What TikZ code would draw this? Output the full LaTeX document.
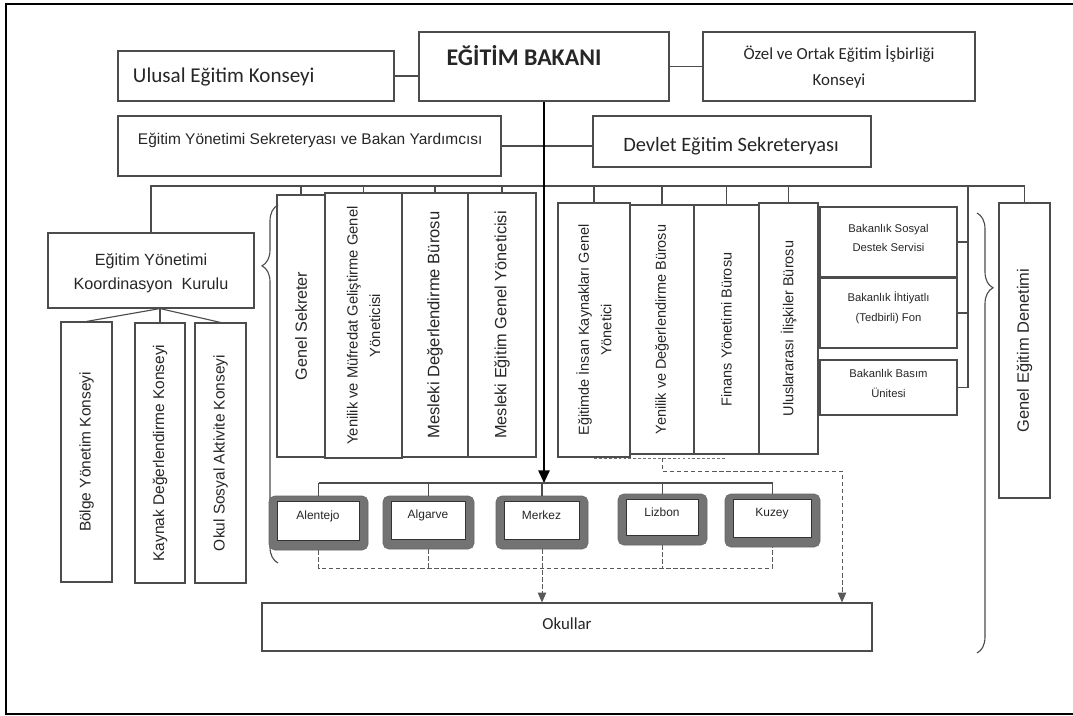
\documentclass[tikz,border=0pt]{standalone}
\usepackage{fontspec}
\setmainfont{Carlito}
\newfontfamily\arialf{Liberation Sans}
\usetikzlibrary{fit,arrows.meta,decorations.pathreplacing}
\tikzset{
  box/.style={draw=black!70, line width=0.8pt, inner sep=0pt, text=black!85},
  vtext/.style={rotate=90, align=center, text=black!85,
    font=\arialf\fontsize{#1}{16}\selectfont},
  vtext/.default=11,
  conn/.style={draw=black!70, line width=0.8pt},
  mainline/.style={draw=black, line width=1.4pt, -{Triangle[length=9pt,width=8pt]}},
  dashline/.style={draw=black!65, line width=0.7pt, dash pattern=on 3pt off 2pt},
  dasharrow/.style={dashline, -{Triangle[length=7pt,width=6pt]}},
  dotline/.style={draw=black!55, line width=0.7pt, dash pattern=on 2pt off 1.5pt},
  regout/.style={fill=black!55, draw=black!60, rounded corners=4pt, inner sep=0pt},
  regin/.style={fill=white, draw=black!80, line width=0.6pt, inner sep=0pt,
    text=black!85, font=\arialf\fontsize{8.5}{10}\selectfont},
  smallbox/.style={box, align=center, font=\arialf\fontsize{8}{14}\selectfont},
  curly/.style={draw=black!70, line width=0.8pt, decorate,
    decoration={brace, amplitude=0.4cm}}
}
\begin{document}
\begin{tikzpicture}[x=0.025cm, y=-0.025cm]
    \useasboundingbox (0,0) rectangle (1073,716);
    \draw[line width=1pt] (1073,4) -- (6,4) -- (6,714) -- (1073,714);

    % top row
    \node[box, fit={(419,32) (669,101)}] (bakan) {};
    \node[text=black!85, font=\bfseries\fontsize{17}{20}\selectfont] (bakant) at (524,56) {EĞİTİM BAKANI};
    \node[box, fit={(118,51) (394,101)}] (ulusal) {};
    \node[anchor=west, text=black!85, font=\fontsize{15}{18}\selectfont] (ulusalt) at (128,77) {Ulusal Eğitim Konseyi};
    \node[box, fit={(703,32) (975,101)}] (ozel) {};
    \node[align=center, text=black!85, font=\fontsize{12}{19}\selectfont] (ozelt) at (839,67) {Özel ve Ortak Eğitim İşbirliği\\Konseyi};
    \node[box, fit={(118,116) (501,176)}] (eys) {};
    \node[anchor=west, text=black!85, font=\arialf\fontsize{11}{14}\selectfont] (eyst) at (133,140) {Eğitim Yönetimi Sekreteryası ve Bakan Yardımcısı};
    \node[box, fit={(593,116) (871,167)}] (devlet) {};
    \node[text=black!85, font=\fontsize{14.5}{17}\selectfont] (devlett) at (731,146) {Devlet Eğitim Sekreteryası};

    \draw[conn] (ulusal.east) -- (ulusal.east -| bakan.west);
    \draw[conn] (bakan.east |- ozel) -- (ozel.west);
    \draw[conn] (eys.east) -- (eys.east -| devlet.west);

    % left group
    \node[box, fit={(48,233) (254,308)}] (koord) {};
    \node[align=center, text=black!85, font=\arialf\fontsize{11.5}{17}\selectfont] (koordt) at (151,273) {Eğitim Yönetimi\\Koordinasyon\ \ Kurulu};
    \node[box, fit={(61,322) (112,582)}] (bolge) {};
    \node[box, fit={(135,323) (185,583)}] (kaynak) {};
    \node[box, fit={(195,323) (246,583)}] (okulsos) {};
    \node[vtext] (bolget) at (bolge) {Bölge Yönetim Konseyi};
    \node[vtext] (kaynakt) at (kaynak) {Kaynak Değerlendirme Konseyi};
    \node[vtext] (okulsost) at (okulsos) {Okul Sosyal Aktivite Konseyi};
    \coordinate (kfan) at (kaynak.north |- koord.south);
    \draw[conn] (kfan) -- (bolge.north);
    \draw[conn] (kfan) -- (kaynak.north);
    \draw[conn] (kfan) -- (okulsos.north);

    % middle groups
    \node[box, fit={(277,195) (325,457)}] (gensek) {};
    \node[box, fit={(325,193) (402,458)}] (yenmuf) {};
    \node[box, fit={(402,193) (468,457)}] (mesdeg) {};
    \node[box, fit={(468,193) (536,457)}] (mesegt) {};
    \node[vtext=11.5] (gensekt) at (gensek) {Genel Sekreter};
    \node[vtext=10.5] (yenmuft) at (yenmuf) {Yenilik ve Müfredat Geliştirme Genel\\Yöneticisi};
    \node[vtext=11.8] (mesdegt) at (mesdeg) {Mesleki Değerlendirme Bürosu};
    \node[vtext=11.6] (mesegtt) at (mesegt) {Mesleki Eğitim Genel Yöneticisi};

    \node[box, fit={(558,203) (630,457)}] (insan) {};
    \node[box, fit={(630,205) (694,454)}] (yendeg) {};
    \node[box, fit={(694,205) (759,454)}] (finans) {};
    \node[box, fit={(759,203) (818,454)}] (ulusl) {};
    \node[vtext=10.3] (insant) at (insan) {Eğitimde İnsan Kaynakları Genel\\Yönetici};
    \node[vtext=10.3] (yendegt) at (yendeg) {Yenilik ve Değerlendirme Bürosu};
    \node[vtext=10.3] (finanst) at (finans) {Finans Yönetimi Bürosu};
    \node[vtext=10.3] (uluslt) at (ulusl) {Uluslararası İlişkiler Bürosu};

    \node[smallbox, fit={(820,207) (957,277)}] (sosyal) {Bakanlık Sosyal\\Destek Servisi};
    \node[smallbox, fit={(820,278) (957,348)}] (ihtiyat) {Bakanlık İhtiyatlı\\(Tedbirli) Fon};
    \node[smallbox, fit={(820,360) (957,415)}] (basim) {Bakanlık Basım\\Ünitesi};

    \node[box, fit={(999,203) (1050,498)}] (denetim) {};
    \node[vtext=11.7] (denetimt) at (denetim) {Genel Eğitim Denetimi};

    % bus and ticks
    \coordinate (bus) at (0,186);
    \coordinate (sidebus) at (968,0);
    \draw[conn] (koord.north) -- (koord.north |- bus) -| (denetim.north);
    \draw[conn] (gensek.north |- bus) -- (gensek.north);
    \draw[conn] (yenmuf.north |- bus) -- (yenmuf.north);
    \draw[conn] (mesdeg.north |- bus) -- (mesdeg.north);
    \draw[conn] (mesegt.north |- bus) -- (mesegt.north);
    \draw[conn] (insan.north |- bus) -- (insan.north);
    \draw[conn] (yendeg.north |- bus) -- (yendeg.north);
    \draw[conn] (finans.north |- bus) -- (finans.north);
    \draw[conn] (ulusl.north |- bus) -- (ulusl.north);
    \draw[conn] (sidebus |- bus) -- (sidebus |- basim.east) -- (basim.east);
    \draw[conn] (sosyal.east) -- (sosyal.east -| sidebus);
    \draw[conn] (ihtiyat.east) -- (ihtiyat.east -| sidebus);

    % braces
    \draw[curly, decoration={aspect=0.83}] (278,563) -- (278,205);
    \draw[curly, decoration={aspect=0.17}] (977,213) -- (977,653);

    % regions
    \node[regout, fit={(269,496) (368,550)}] (alentejoo) {};
    \node[regout, fit={(383,496) (474,549)}] (algarveo) {};
    \node[regout, fit={(496,496) (588,549)}] (merkezo) {};
    \node[regout, fit={(618,494) (707,545)}] (lizbono) {};
    \node[regout, fit={(725,494) (820,547)}] (kuzeyo) {};
    \node[regin, fit={(277,501) (359,540)}] (alentejo) {Alentejo};
    \node[regin, fit={(391,501) (465,539)}] (algarve) {Algarve};
    \node[regin, fit={(504,501) (579,539)}] (merkez) {Merkez};
    \node[regin, fit={(626,499) (698,535)}] (lizbon) {Lizbon};
    \node[regin, fit={(733,499) (811,537)}] (kuzey) {Kuzey};

    \node[box, fit={(262,603) (872,651)}] (okullar) {};
    \node[text=black!85, font=\fontsize{12}{14}\selectfont] (okullart) at (567,624) {Okullar};

    \coordinate (regbar) at (bakan.south |- 0,483);
    \draw[mainline] (bakan.south) -- (regbar);
    \draw[conn, line width=1.1pt] (alentejoo.north |- regbar) -- (kuzeyo.north |- regbar);
    \draw[conn] (alentejoo.north |- regbar) -- (alentejoo.north);
    \draw[conn] (algarveo.north |- regbar) -- (algarveo.north);
    \draw[conn] (merkezo.north |- regbar) -- (merkezo.north);
    \draw[conn] (lizbono.north |- regbar) -- (lizbono.north);
    \draw[conn] (kuzeyo.north |- regbar) -- (kuzeyo.north);

    % dashed links to schools
    \coordinate (dashbar) at (0,568);
    \draw[dashline] (alentejoo.south) -- (alentejoo.south |- dashbar) -- (kuzeyo.south |- dashbar) -- (kuzeyo.south);
    \draw[dashline] (algarveo.south) -- (algarveo.south |- dashbar);
    \draw[dashline] (lizbono.south) -- (lizbono.south |- dashbar);
    \draw[dasharrow] (merkezo.south) -- (merkezo.south |- okullar.north);
    \coordinate (rdash) at (0,458);
    \coordinate (rdrop) at (842,471);
    \draw[dotline] (insan.south |- rdash) -- (finans.south |- rdash);
    \draw[dasharrow] (yendeg.south |- rdash) |- (rdrop) -- (rdrop |- okullar.north);
\end{tikzpicture}
\end{document}
